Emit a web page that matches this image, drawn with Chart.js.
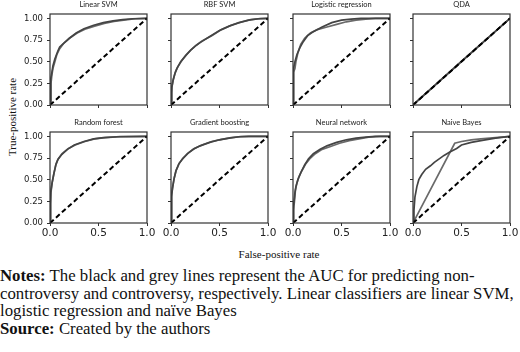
<!DOCTYPE html>
<html>
<head>
<meta charset="utf-8">
<script src="https://cdn.jsdelivr.net/npm/chart.js@4/dist/chart.umd.min.js"></script>
<style>
  html, body { margin: 0; padding: 0; background: #fff; }
  #page { position: relative; width: 520px; height: 352px; overflow: hidden; }
  .panel { position: absolute; }
  .ylab { position: absolute; left: 12px; top: 117px; transform: translate(-50%, -50%) rotate(-90deg);
          font: 11px "Liberation Serif", serif; color: #111; white-space: nowrap; }
  .xlab { position: absolute; left: 279px; top: 254px; transform: translate(-50%, -50%);
          font: 11px "Liberation Serif", serif; color: #111; white-space: nowrap; }
  .notes { position: absolute; left: 0; top: 267px; font: 16.8px "Liberation Serif", serif;
           line-height: 17.7px; color: #111; white-space: nowrap; }
</style>
</head>
<body>
<div id="page">
  <div class="ylab">True-positive rate</div>
  <div class="xlab">False-positive rate</div>
  <div class="notes"><b>Notes:</b> The black and grey lines represent the AUC for predicting non-<br>controversy and controversy, respectively. Linear classifiers are linear SVM,<br>logistic regression and naïve Bayes<br><b>Source:</b> Created by the authors</div>
</div>
<script>
// titres des panneaux
const titles = ['Linear SVM', 'RBF SVM', 'Logistic regression', 'QDA',
                'Random forest', 'Gradient boosting', 'Neural network', 'Naive Bayes'];

// graduations
const xTicks = [0, 0.5, 1];
const yTicks = [0, 0.25, 0.5, 0.75, 1];

// courbes ROC [fpr, tpr] : A = non-controversy, B = controversy
const linSvmA = [[0,0],[0.005,0.2],[0.01,0.3],[0.02,0.38],[0.03,0.45],[0.05,0.53],[0.08,0.62],[0.1,0.67],[0.14,0.71],[0.2,0.77],[0.27,0.83],[0.35,0.88],[0.45,0.92],[0.55,0.95],[0.65,0.97],[0.75,0.985],[0.85,0.995],[1,1]];
const linSvmB = [[0,0],[0.01,0.25],[0.02,0.35],[0.03,0.42],[0.05,0.5],[0.07,0.58],[0.1,0.65],[0.14,0.71],[0.2,0.77],[0.28,0.83],[0.36,0.875],[0.46,0.91],[0.56,0.94],[0.66,0.965],[0.76,0.98],[0.88,0.995],[1,1]];
const rbfSvmA = [[0,0],[0.005,0.12],[0.01,0.2],[0.02,0.28],[0.04,0.36],[0.06,0.42],[0.1,0.5],[0.15,0.57],[0.2,0.63],[0.25,0.68],[0.3,0.72],[0.4,0.79],[0.5,0.86],[0.6,0.91],[0.7,0.95],[0.8,0.98],[0.9,0.995],[1,1]];
const rbfSvmB = [[0,0],[0.006,0.14],[0.012,0.22],[0.025,0.3],[0.045,0.38],[0.07,0.44],[0.11,0.51],[0.16,0.58],[0.21,0.64],[0.26,0.69],[0.32,0.74],[0.42,0.8],[0.52,0.87],[0.62,0.92],[0.72,0.955],[0.82,0.985],[0.92,0.997],[1,1]];
const logRegA = [[0,0],[0.002,0.1],[0.005,0.3],[0.01,0.42],[0.02,0.5],[0.04,0.58],[0.07,0.66],[0.1,0.72],[0.15,0.8],[0.2,0.84],[0.3,0.9],[0.4,0.95],[0.5,0.98],[0.6,0.99],[0.7,1],[1,1]];
const logRegB = [[0,0],[0.002,0.15],[0.005,0.3],[0.01,0.38],[0.02,0.42],[0.03,0.5],[0.05,0.6],[0.08,0.7],[0.12,0.77],[0.18,0.83],[0.25,0.87],[0.35,0.9],[0.45,0.93],[0.55,0.96],[0.65,0.98],[0.75,0.99],[0.85,1],[1,1]];
const qdaA = [[0,0],[0.5,0.5],[1,1]];
const qdaB = [[0,0],[0.5,0.505],[1,1]];
const rfA = [[0,0],[0.003,0.2],[0.01,0.35],[0.02,0.45],[0.04,0.57],[0.06,0.67],[0.08,0.73],[0.12,0.79],[0.18,0.85],[0.25,0.9],[0.35,0.94],[0.45,0.97],[0.55,0.985],[0.7,0.995],[1,1]];
const rfB = [[0,0],[0.004,0.22],[0.012,0.37],[0.022,0.47],[0.042,0.58],[0.062,0.68],[0.085,0.74],[0.125,0.8],[0.19,0.86],[0.26,0.9],[0.36,0.94],[0.46,0.97],[0.57,0.985],[0.72,0.996],[1,1]];
const gbA = [[0,0],[0.003,0.18],[0.008,0.3],[0.015,0.4],[0.03,0.5],[0.05,0.6],[0.08,0.68],[0.12,0.74],[0.17,0.8],[0.23,0.85],[0.3,0.89],[0.4,0.93],[0.5,0.96],[0.6,0.98],[0.7,0.995],[0.8,1],[1,1]];
const gbB = [[0,0],[0.004,0.2],[0.01,0.33],[0.018,0.42],[0.033,0.52],[0.055,0.61],[0.085,0.69],[0.125,0.75],[0.18,0.81],[0.24,0.86],[0.32,0.9],[0.42,0.94],[0.52,0.965],[0.62,0.985],[0.72,0.997],[0.82,1],[1,1]];
const nnA = [[0,0],[0.002,0.12],[0.01,0.2],[0.02,0.35],[0.03,0.42],[0.05,0.5],[0.08,0.58],[0.12,0.67],[0.16,0.74],[0.21,0.8],[0.28,0.85],[0.35,0.89],[0.45,0.93],[0.55,0.96],[0.65,0.98],[0.75,0.99],[0.85,1],[1,1]];
const nnB = [[0,0],[0.005,0.15],[0.015,0.25],[0.025,0.38],[0.04,0.46],[0.06,0.53],[0.09,0.6],[0.13,0.68],[0.18,0.75],[0.23,0.8],[0.3,0.85],[0.38,0.88],[0.48,0.92],[0.58,0.95],[0.68,0.97],[0.78,0.99],[0.9,1],[1,1]];
const nbA = [[0,0],[0.01,0.15],[0.02,0.3],[0.04,0.42],[0.06,0.5],[0.09,0.56],[0.13,0.62],[0.18,0.66],[0.22,0.7],[0.27,0.74],[0.32,0.78],[0.38,0.82],[0.45,0.86],[0.5,0.9],[0.6,0.93],[0.7,0.95],[0.85,0.98],[1,1]];
const nbB = [[0,0],[0.43,0.92],[0.5,0.94],[0.6,0.96],[0.7,0.97],[0.85,0.985],[1,1]];
const diagonal = [[0,0],[1,1]];

const seriesA = [linSvmA, rbfSvmA, logRegA, qdaA, rfA, gbA, nnA, nbA];
const seriesB = [linSvmB, rbfSvmB, logRegB, qdaB, rfB, gbB, nnB, nbB];

// position des cadres
const colLeft = [50, 171, 293, 413];
const rowTop = [14, 132];
const boxW = 97, boxH = 91;
const yAxisW = 40, xAxisH = 18, titleH = 14, padRight = 10;

// cadre sur les quatre côtés
const frame = {
  id: 'frame',
  afterDatasetsDraw(chart) {
    const { ctx, chartArea: a } = chart;
    ctx.save();
    ctx.strokeStyle = '#333';
    ctx.lineWidth = 1.2;
    ctx.strokeRect(a.left, a.top, a.right - a.left, a.bottom - a.top);
    ctx.restore();
  }
};

const page = document.getElementById('page');
const pts = arr => arr.map(p => ({ x: p[0], y: p[1] }));

titles.forEach((title, i) => {
  const row = Math.floor(i / 4), col = i % 4;
  const canvas = document.createElement('canvas');
  canvas.className = 'panel';
  canvas.width = yAxisW + boxW + padRight;
  canvas.height = titleH + boxH + xAxisH;
  canvas.style.left = (colLeft[col] - yAxisW) + 'px';
  canvas.style.top = (rowTop[row] - titleH) + 'px';
  page.appendChild(canvas);

  new Chart(canvas, {
    type: 'line',
    data: {
      datasets: [
        { data: pts(diagonal), borderColor: '#000', borderWidth: 2, borderDash: [5, 3] },
        { data: pts(seriesA[i]), borderColor: '#444', borderWidth: 1.7 },
        { data: pts(seriesB[i]), borderColor: '#6a6a6a', borderWidth: 1.7 },
      ],
    },
    options: {
      responsive: false,
      animation: false,
      devicePixelRatio: 1,
      layout: { padding: { left: 0, right: padRight, top: 0, bottom: 0 } },
      elements: { point: { radius: 0 }, line: { tension: 0 } },
      plugins: {
        legend: { display: false },
        tooltip: { enabled: false },
        title: {
          display: true, text: title, color: '#222', fullSize: false,
          font: { family: 'Lato', size: 7.5, weight: 'normal', lineHeight: '8px' },
          padding: { top: 1, bottom: 5 },
        },
      },
      scales: {
        x: {
          type: 'linear', min: 0, max: 1,
          afterBuildTicks: s => { s.ticks = xTicks.map(v => ({ value: v })); },
          afterFit: s => { s.height = xAxisH; },
          border: { display: false },
          grid: { drawOnChartArea: false, drawTicks: true, tickLength: 3, color: '#333' },
          ticks: {
            display: row === 1, padding: 1, color: '#222', maxRotation: 0,
            font: { family: 'DejaVu Sans', size: 10.5 },
            callback: v => v.toFixed(1),
          },
        },
        y: {
          type: 'linear', min: 0, max: 1.05,
          afterBuildTicks: s => { s.ticks = yTicks.map(v => ({ value: v })); },
          afterFit: s => { s.width = yAxisW; },
          border: { display: false },
          grid: { drawOnChartArea: false, drawTicks: true, tickLength: 3, color: '#333' },
          ticks: {
            display: col === 0, padding: 4, color: '#222',
            font: { family: 'DejaVu Sans', size: 8.5 },
            callback: v => v.toFixed(2),
          },
        },
      },
    },
    plugins: [frame],
  });
});
</script>
</body>
</html>
